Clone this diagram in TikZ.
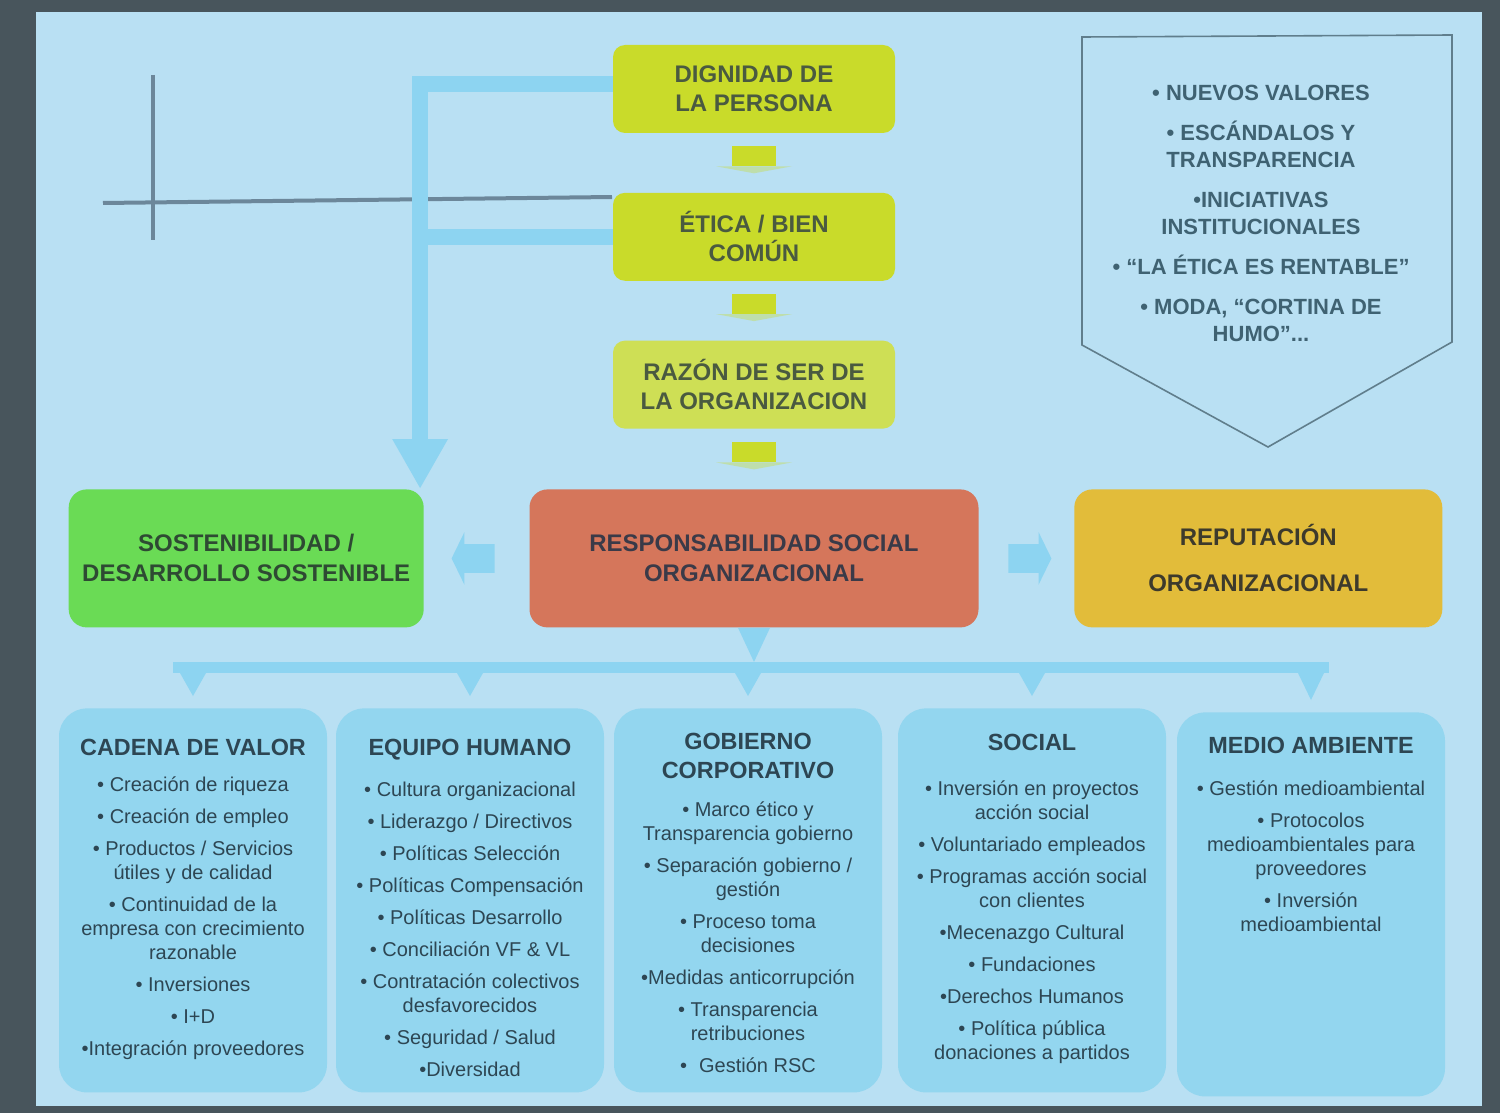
\documentclass[tikz,border=0pt]{standalone}
\usepackage{fontspec}
\setmainfont{Liberation Sans}
\usepackage{tikz}
\usetikzlibrary{positioning,arrows.meta,calc,shapes.arrows}
\usepackage{xcolor}
\definecolor{frame}{HTML}{48555C}
\definecolor{slide}{HTML}{B9E0F3}
\definecolor{flowblue}{HTML}{8DD4F1}
\definecolor{crossgray}{HTML}{6C879A}
\definecolor{stepgreen}{HTML}{C9DB2A}
\definecolor{steppale}{HTML}{CEDF55}
\definecolor{stepink}{HTML}{4A5A40}
\definecolor{sostgreen}{HTML}{6ADB55}
\definecolor{sostink}{HTML}{2E4A33}
\definecolor{rsored}{HTML}{D5765B}
\definecolor{rsoink}{HTML}{3A3A48}
\definecolor{repgold}{HTML}{E2BC3A}
\definecolor{repink}{HTML}{3D3A2C}
\definecolor{areablue}{HTML}{93D6EF}
\definecolor{areaink}{HTML}{2D4653}
\definecolor{pentline}{HTML}{607E8C}
\definecolor{pentink}{HTML}{3F6272}
\newcommand{\areatitle}[1]{{\fontsize{11.7}{12}\selectfont\bfseries #1}}
\newcommand{\areacard}[1]{\parbox[t][192pt][t]{134pt}{\centering\fontsize{10}{12}\selectfont\vspace*{15.5pt}#1}}

\begin{document}
\begin{tikzpicture}[x=0.5pt,y=-0.5pt,
    stepbox/.style={rectangle, rounded corners=6pt, fill=stepgreen, text=stepink,
      minimum width=141pt, minimum height=44pt, align=center,
      font=\fontsize{12}{14.5}\selectfont\bfseries},
    hubbox/.style={rectangle, rounded corners=9pt, minimum height=69pt, align=center,
      font=\fontsize{12}{15}\selectfont\bfseries},
    areabox/.style={rectangle, rounded corners=14pt, fill=areablue, text=areaink,
      inner sep=0pt, anchor=north},
    stepblock/.style={rectangle, fill=stepgreen, minimum width=22pt, minimum height=10pt,
      inner sep=0pt},
    sidearrow/.style={single arrow, fill=flowblue, inner sep=7pt, minimum height=21.5pt,
      single arrow head extend=6pt, single arrow tip angle=128},
    flowline/.style={draw=flowblue, line width=8pt}]

  \fill[frame] (0,0) rectangle (1500,1113);
  \fill[slide] (36,12) rectangle (1482,1106);

  \draw[crossgray, line width=2pt] (153,75) -- (153,240);
  \draw[crossgray, line width=2pt] (103,203) -- (612,197);

  \node[stepbox] (dignidad) at (754,89) {DIGNIDAD DE\\LA PERSONA};
  \node[stepbox, below=29.5pt of dignidad] (etica) {ÉTICA / BIEN\\COMÚN};
  \node[stepbox, fill=steppale, below=29.5pt of etica] (razon) {RAZÓN DE SER DE\\LA ORGANIZACION};

  \node[hubbox, fill=rsored, text=rsoink, minimum width=224.5pt, below=30pt of razon] (rso)
    {RESPONSABILIDAD SOCIAL\\ORGANIZACIONAL};
  \node[hubbox, fill=sostgreen, text=sostink, minimum width=177.5pt, left=52.5pt of rso] (sosten)
    {SOSTENIBILIDAD /\\DESARROLLO SOSTENIBLE};
  \node[hubbox, fill=repgold, text=repink, minimum width=184pt, right=47.5pt of rso] (reputacion)
    {REPUTACIÓN\\[8pt]ORGANIZACIONAL};

  \foreach \a/\b/\n in {dignidad/etica/1, etica/razon/2, razon/rso/3} {
    \node[stepblock, yshift=3.5pt] (blk\n) at ($(\a.south)!0.5!(\b.north)$) {};
    \fill[stepgreen, opacity=0.35] ([xshift=-19pt]blk\n.south) -- ([xshift=19pt]blk\n.south)
      -- ([yshift=-3.5pt]blk\n.south) -- cycle;
  }

  \coordinate (drop) at ([xshift=-2pt]sosten.north east);
  \draw[flowline, -{Triangle[width=26pt,length=25pt]}] ([yshift=2.5pt]dignidad.west) -| (drop);
  \draw[flowline] (etica.west) -- (etica.west -| drop);

  \node[sidearrow, shape border rotate=180] (toSosten) at ($(sosten.east)!0.5!(rso.west)$) {};
  \node[sidearrow] (toReputacion) at ($(rso.east)!0.5!(reputacion.west)$) {};

  \draw[pentline, line width=0.8pt] (1082,37) -- (1452,35) -- (1452,342) -- (1268,447)
    -- (1082,345) -- cycle;
  \node[anchor=north, inner sep=0pt, align=center, text=pentink,
        font=\fontsize{11}{13.5}\selectfont\bfseries] (trends) at (1261,85) {
    • NUEVOS VALORES\\[6.5pt]
    • ESCÁNDALOS Y\\TRANSPARENCIA\\[6.5pt]
    •INICIATIVAS\\INSTITUCIONALES\\[6.5pt]
    • “LA ÉTICA ES RENTABLE”\\[6.5pt]
    • MODA, “CORTINA DE\\HUMO”...};

  \node[areabox] (cadena) at (193,708) {\areacard{%
    \areatitle{CADENA DE VALOR}\\[6pt]
    • Creación de riqueza\\[4pt]
    • Creación de empleo\\[4pt]
    • Productos / Servicios\\útiles y de calidad\\[4pt]
    • Continuidad de la\\empresa con crecimiento\\razonable\\[4pt]
    • Inversiones\\[4pt]
    • I+D\\[4pt]
    •Integración proveedores}};
  \node[areabox] (equipo) at (470,708) {\areacard{%
    \areatitle{EQUIPO HUMANO}\\[8.5pt]
    • Cultura organizacional\\[4pt]
    • Liderazgo / Directivos\\[4pt]
    • Políticas Selección\\[4pt]
    • Políticas Compensación\\[4pt]
    • Políticas Desarrollo\\[4pt]
    • Conciliación VF \& VL\\[4pt]
    • Contratación colectivos\\desfavorecidos\\[4pt]
    • Seguridad / Salud\\[4pt]
    •Diversidad}};
  \node[areabox] (gobierno) at (748,708) {\areacard{%
    \vspace*{-3pt}\areatitle{GOBIERNO}\\[2.5pt]
    \areatitle{CORPORATIVO}\\[7pt]
    • Marco ético y\\Transparencia gobierno\\[4pt]
    • Separación gobierno /\\gestión\\[4pt]
    • Proceso toma\\decisiones\\[4pt]
    •Medidas anticorrupción\\[4pt]
    • Transparencia\\retribuciones\\[4pt]
    •\hspace{0.6em}Gestión RSC}};
  \node[areabox] (social) at (1032,708) {\areacard{%
    \vspace*{-2.5pt}\areatitle{SOCIAL}\\[10.5pt]
    • Inversión en proyectos\\acción social\\[4pt]
    • Voluntariado empleados\\[4pt]
    • Programas acción social\\con clientes\\[4pt]
    •Mecenazgo Cultural\\[4pt]
    • Fundaciones\\[4pt]
    •Derechos Humanos\\[4pt]
    • Política pública\\donaciones a partidos}};
  \node[areabox] (medio) at (1311,712) {\areacard{%
    \vspace*{-3pt}\areatitle{MEDIO AMBIENTE}\\[9pt]
    • Gestión medioambiental\\[4pt]
    • Protocolos\\medioambientales para\\proveedores\\[4pt]
    • Inversión\\medioambiental}};

  \coordinate (bandtop) at (0,662);
  \coordinate (bandbot) at (0,673);
  \fill[flowblue] ([xshift=-8pt]rso.south) -- ([xshift=8pt]rso.south) -- (rso.south |- bandtop) -- cycle;
  \fill[flowblue] ([xshift=-10pt]cadena.north |- bandtop) rectangle ([xshift=9pt]medio.north |- bandbot);
  \foreach \b in {cadena,equipo,gobierno,social,medio}
    \fill[flowblue] ([xshift=-6.5pt]\b.north |- bandbot) -- ([xshift=6.5pt]\b.north |- bandbot)
      -- ([yshift=6pt]\b.north) -- cycle;
\end{tikzpicture}
\end{document}
